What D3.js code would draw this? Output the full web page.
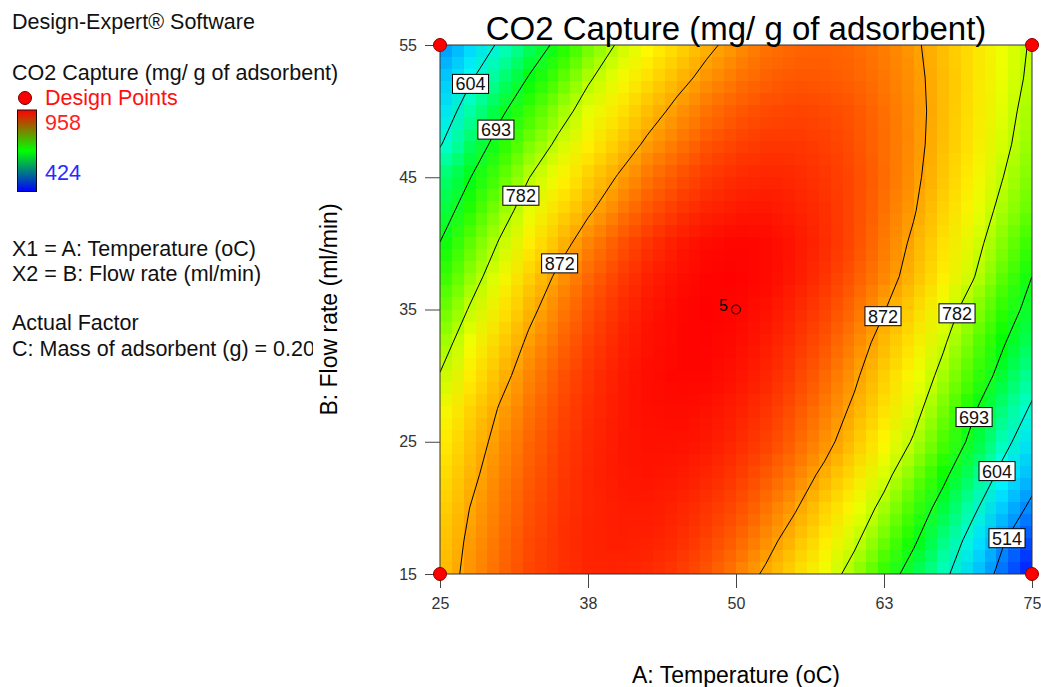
<!DOCTYPE html>
<html>
<head>
<meta charset="utf-8">
<script src="https://cdn.jsdelivr.net/npm/d3@7"></script>
<style>
	body { margin: 0; background: #fff; }
	text { font-family: "Liberation Sans", Arial, sans-serif; }
</style>
</head>
<body>
<svg id="chart" width="1041" height="687"></svg>
<script>
// grid axes of the response surface
const temperature = [25, 27.5, 30, 32.5, 35, 37.5, 40, 42.5, 45, 47.5, 50, 52.5, 55, 57.5, 60, 62.5, 65, 67.5, 70, 72.5, 75];
const flowRate = [15, 17.5, 20, 22.5, 25, 27.5, 30, 32.5, 35, 37.5, 40, 42.5, 45, 47.5, 50, 52.5, 55];

// CO2 capture (mg/g), one row per flow rate (15 -> 55)
const capture = [
	[852, 882, 904, 920, 931, 938, 939, 935, 926, 912, 892, 867, 835, 803, 766, 720, 670, 617, 559, 496, 430],
	[847, 878, 900, 918, 931, 939, 942, 940, 934, 922, 906, 884, 855, 822, 789, 746, 700, 643, 583, 520, 460],
	[839, 872, 895, 914, 929, 938, 943, 944, 939, 930, 917, 898, 875, 842, 808, 771, 725, 674, 615, 557, 501],
	[830, 863, 890, 910, 926, 938, 945, 947, 945, 938, 927, 911, 891, 864, 829, 794, 751, 704, 648, 590, 537],
	[819, 853, 883, 905, 923, 936, 945, 949, 949, 945, 936, 923, 905, 883, 851, 815, 778, 731, 681, 621, 569],
	[805, 840, 874, 898, 918, 933, 944, 950, 952, 949, 942, 930, 913, 893, 866, 831, 796, 751, 700, 649, 597],
	[784, 823, 860, 889, 912, 930, 943, 951, 955, 954, 948, 938, 923, 903, 878, 844, 809, 771, 725, 678, 626],
	[764, 805, 843, 878, 903, 923, 939, 949, 955, 956, 952, 943, 930, 912, 889, 859, 823, 787, 743, 698, 654],
	[741, 785, 824, 863, 892, 915, 933, 946, 954, 957, 955, 949, 937, 921, 900, 874, 838, 802, 763, 719, 676],
	[717, 763, 805, 843, 879, 904, 924, 940, 950, 956, 957, 953, 944, 930, 911, 888, 857, 821, 785, 740, 693],
	[694, 740, 785, 822, 858, 889, 912, 930, 944, 952, 955, 953, 946, 934, 917, 894, 866, 831, 796, 758, 716],
	[669, 716, 763, 801, 834, 867, 893, 913, 929, 939, 945, 946, 941, 932, 918, 899, 875, 841, 806, 772, 738],
	[648, 691, 736, 781, 813, 844, 874, 897, 914, 927, 935, 938, 936, 929, 918, 902, 880, 850, 816, 783, 749],
	[600, 660, 711, 753, 790, 820, 850, 878, 897, 913, 923, 928, 929, 924, 915, 901, 883, 855, 824, 792, 760],
	[572, 628, 683, 726, 765, 799, 827, 856, 881, 898, 911, 918, 921, 919, 912, 900, 883, 858, 827, 797, 767],
	[550, 597, 646, 696, 736, 777, 806, 833, 860, 882, 897, 907, 912, 911, 906, 896, 881, 858, 830, 802, 774],
	[518, 564, 611, 660, 706, 747, 786, 812, 838, 864, 884, 898, 905, 907, 903, 893, 878, 855, 829, 803, 778]
];

const contourLevels = [514, 604, 693, 782, 872];
const responseRange = [424, 958];

const tempTicks = [25, 37.5, 50, 62.5, 75];
const tempTickLabels = ['25', '38', '50', '63', '75'];
const flowTicks = [15, 25, 35, 45, 55];

// design points
const designTemp = [25, 75, 25, 75, 50];
const designFlow = [15, 15, 55, 55, 35];
const designReps = [1, 1, 1, 1, 5];

// where each contour label sits (snapped onto its line)
const labelSpots = [
	{ level: 604, t: 27.5, f: 52.1 },
	{ level: 693, t: 29.5, f: 48.7 },
	{ level: 782, t: 31.6, f: 43.7 },
	{ level: 872, t: 34.9, f: 38.6 },
	{ level: 872, t: 62.4, f: 34.5 },
	{ level: 782, t: 68.7, f: 34.7 },
	{ level: 693, t: 70.0, f: 26.9 },
	{ level: 604, t: 72.0, f: 22.8 },
	{ level: 514, t: 72.9, f: 17.7 }
];

const MARGIN = { TOP: 45, LEFT: 440, RIGHT: 9, BOTTOM: 113 };
const W = 1041 - MARGIN.LEFT - MARGIN.RIGHT;
const H = 687 - MARGIN.TOP - MARGIN.BOTTOM;
const CELLS_X = 50, CELLS_Y = 44;

// rainbow ramp, positions given as fractions of the response range
const RAMP_POS = [0, 0.311, 0.517, 0.723, 0.839, 0.929, 1];
const RAMP_COL = ['#0000ff', '#00ffff', '#00ff00', '#ffff00', '#ffa800', '#ff4600', '#ff0000'];

const svg = d3.select('#chart');
const x = d3.scaleLinear().domain([25, 75]).range([MARGIN.LEFT, MARGIN.LEFT + W]);
const y = d3.scaleLinear().domain([15, 55]).range([MARGIN.TOP + H, MARGIN.TOP]);

const color = d3.scaleLinear()
	.domain(RAMP_POS.map(function (p) { return responseRange[0] + p * (responseRange[1] - responseRange[0]); }))
	.range(RAMP_COL).clamp(true);

// ---- heat map: grid colours -> small canvas, resampled into blocky cells
var nx = temperature.length, ny = flowRate.length;
var base = document.createElement('canvas');
base.width = nx; base.height = ny;
var bctx = base.getContext('2d');
var img = bctx.createImageData(nx, ny);
flowRate.forEach(function (f, j) {
	temperature.forEach(function (t, i) {
		var c = d3.rgb(color(capture[j][i]));
		var k = ((ny - 1 - j) * nx + i) * 4;
		img.data[k] = c.r; img.data[k + 1] = c.g; img.data[k + 2] = c.b; img.data[k + 3] = 255;
	});
});
bctx.putImageData(img, 0, 0);

var mid = document.createElement('canvas');
mid.width = CELLS_X; mid.height = CELLS_Y;
var mctx = mid.getContext('2d');
mctx.imageSmoothingEnabled = true;
mctx.drawImage(base, 0.5, 0.5, nx - 1, ny - 1, 0, 0, CELLS_X, CELLS_Y);

var full = document.createElement('canvas');
full.width = W; full.height = H;
var fctx = full.getContext('2d');
fctx.imageSmoothingEnabled = false;
fctx.drawImage(mid, 0, 0, W, H);

svg.append('clipPath').attr('id', 'plotClip')
	.append('rect').attr('x', MARGIN.LEFT).attr('y', MARGIN.TOP).attr('width', W).attr('height', H);

svg.append('image')
	.attr('x', MARGIN.LEFT).attr('y', MARGIN.TOP)
	.attr('width', W).attr('height', H)
	.attr('preserveAspectRatio', 'none')
	.attr('href', full.toDataURL());

// ---- contour lines
var gx = d3.scaleLinear().domain([0.5, nx - 0.5]).range([x(25), x(75)]);
var gy = d3.scaleLinear().domain([0.5, ny - 0.5]).range([y(15), y(55)]);
var proj = d3.geoTransform({ point: function (px, py) { this.stream.point(gx(px), gy(py)); } });
var path = d3.geoPath(proj);

var contours = d3.contours().size([nx, ny]).thresholds(contourLevels)(capture.flat());

svg.append('g')
	.attr('clip-path', 'url(#plotClip)')
	.selectAll('path')
	.data(contours)
	.enter().append('path')
	.attr('d', path)
	.attr('fill', 'none')
	.attr('stroke', '#000')
	.attr('stroke-width', 1);

// ---- frame and axes
svg.append('rect')
	.attr('x', MARGIN.LEFT).attr('y', MARGIN.TOP).attr('width', W).attr('height', H)
	.attr('fill', 'none').attr('stroke', '#333').attr('stroke-width', 1);

var xAxis = d3.axisBottom(x).tickValues(tempTicks)
	.tickFormat(function (d, i) { return tempTickLabels[i]; })
	.tickSize(14).tickPadding(10);
var yAxis = d3.axisLeft(y).tickValues(flowTicks).tickSize(15).tickPadding(8);

var gX = svg.append('g').attr('transform', 'translate(0,' + (MARGIN.TOP + H) + ')').call(xAxis);
var gY = svg.append('g').attr('transform', 'translate(' + MARGIN.LEFT + ',0)').call(yAxis);
[gX, gY].forEach(function (g) {
	g.select('.domain').remove();
	g.selectAll('line').attr('stroke', '#444');
	g.selectAll('text').attr('fill', '#333').style('font-size', '16px')
		.style('font-family', '"Liberation Sans", Arial, sans-serif');
});

// ---- contour labels
function nearestOnContour (level, px, py) {
	var best = null, bestD = Infinity;
	contours.filter(function (c) { return c.value === level; }).forEach(function (c) {
		c.coordinates.forEach(function (poly) {
			poly.forEach(function (ring) {
				for (var k = 1; k < ring.length; k++) {
					var ax = gx(ring[k - 1][0]), ay = gy(ring[k - 1][1]);
					var bx = gx(ring[k][0]), by = gy(ring[k][1]);
					var dx = bx - ax, dy = by - ay;
					var len = dx * dx + dy * dy;
					var s = len ? Math.max(0, Math.min(1, ((px - ax) * dx + (py - ay) * dy) / len)) : 0;
					var qx = ax + s * dx, qy = ay + s * dy;
					var d = (qx - px) * (qx - px) + (qy - py) * (qy - py);
					if (d < bestD) { bestD = d; best = [qx, qy]; }
				}
			});
		});
	});
	return best || [px, py];
}

var labels = svg.append('g');
labelSpots.forEach(function (s) {
	var p = nearestOnContour(s.level, x(s.t), y(s.f));
	var g = labels.append('g').attr('transform', 'translate(' + p[0] + ',' + p[1] + ')');
	var rect = g.append('rect');
	var txt = g.append('text').text(s.level)
		.attr('text-anchor', 'middle').attr('dy', '0.36em')
		.style('font-size', '18px').attr('fill', '#111');
	var bb = txt.node().getBBox();
	rect.attr('x', bb.x - 3).attr('y', -9.5).attr('width', bb.width + 6).attr('height', 19)
		.attr('fill', '#fff').attr('stroke', '#000').attr('stroke-width', 1);
});

// ---- design points
designTemp.forEach(function (t, i) {
	if (designReps[i] > 1) {
		svg.append('circle').attr('cx', x(t)).attr('cy', y(designFlow[i])).attr('r', 4.5)
			.attr('fill', 'none').attr('stroke', '#000').attr('stroke-width', 1);
		svg.append('text').attr('x', x(t) - 8).attr('y', y(designFlow[i])).attr('dy', '0.1em')
			.attr('text-anchor', 'end').style('font-size', '16px').attr('fill', '#000')
			.text(designReps[i]);
	} else {
		svg.append('circle').attr('cx', x(t)).attr('cy', y(designFlow[i])).attr('r', 6.5)
			.attr('fill', '#ff0000').attr('stroke', '#8a0000').attr('stroke-width', 1);
	}
});

// ---- titles
svg.append('text').attr('x', x(50)).attr('y', 40).attr('text-anchor', 'middle')
	.style('font-size', '33px').attr('fill', '#000')
	.text('CO2 Capture (mg/ g of adsorbent)');
svg.append('text').attr('x', x(50)).attr('y', 683).attr('text-anchor', 'middle')
	.style('font-size', '23px').attr('fill', '#000')
	.text('A: Temperature (oC)');
svg.append('text').attr('transform', 'translate(337,' + y(35) + ') rotate(-90)')
	.attr('text-anchor', 'middle').style('font-size', '23px').attr('fill', '#000')
	.text('B: Flow rate (ml/min)');

// ---- left info panel
svg.append('clipPath').attr('id', 'infoClip')
	.append('rect').attr('x', 0).attr('y', 0).attr('width', 313).attr('height', 687);
var info = svg.append('g').style('font-size', '21.5px');
var infoLines = [
	{ t: 'Design-Expert® Software', y: 29 },
	{ t: 'CO2 Capture (mg/ g of adsorbent)', y: 80 },
	{ t: 'X1 = A: Temperature (oC)', y: 256 },
	{ t: 'X2 = B: Flow rate (ml/min)', y: 281 },
	{ t: 'Actual Factor', y: 330 },
	{ t: 'C: Mass of adsorbent (g) = 0.20', y: 356, clip: true }
];
infoLines.forEach(function (l) {
	info.append('text').attr('x', 12).attr('y', l.y).attr('fill', '#111')
		.attr('clip-path', l.clip ? 'url(#infoClip)' : null).text(l.t);
});
info.append('circle').attr('cx', 25).attr('cy', 98).attr('r', 6.5)
	.attr('fill', '#ff0000').attr('stroke', '#6a0000').attr('stroke-width', 1);
info.append('text').attr('x', 45).attr('y', 105).attr('fill', '#ff1010').text('Design Points');

var grad = svg.append('defs').append('linearGradient').attr('id', 'legendGrad')
	.attr('x1', 0).attr('y1', 0).attr('x2', 0).attr('y2', 1);
grad.append('stop').attr('offset', '0%').attr('stop-color', '#ff0000');
grad.append('stop').attr('offset', '50%').attr('stop-color', '#00ff00');
grad.append('stop').attr('offset', '100%').attr('stop-color', '#0000ff');
info.append('rect').attr('x', 17.5).attr('y', 110).attr('width', 19).attr('height', 81.5)
	.attr('fill', 'url(#legendGrad)').attr('stroke', '#111').attr('stroke-width', 1);
info.append('text').attr('x', 45).attr('y', 130).attr('fill', '#ff2020').text(responseRange[1]);
info.append('text').attr('x', 45).attr('y', 180).attr('fill', '#2a2aff').text(responseRange[0]);
</script>
</body>
</html>
